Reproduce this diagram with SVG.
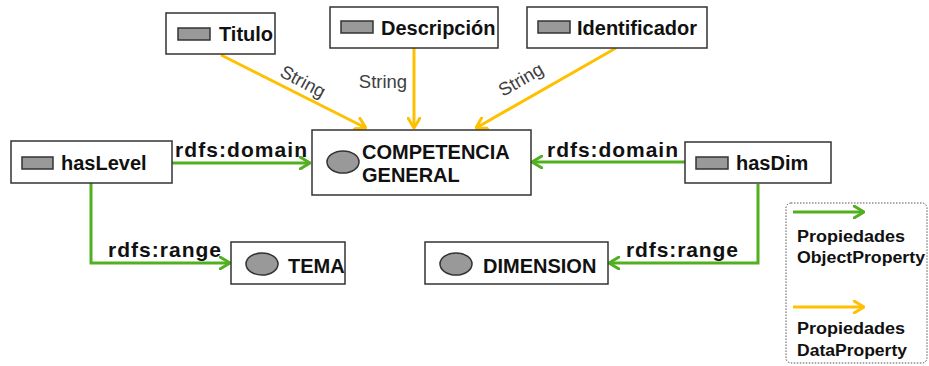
<svg xmlns="http://www.w3.org/2000/svg" width="929" height="366" viewBox="0 0 929 366">
  <defs>
    <style>
      .box { fill: #ffffff; stroke: #333333; stroke-width: 1.5; }
      .prop { fill: #999999; stroke: #333333; stroke-width: 1.5; }
      .cls { fill: #999999; stroke: #333333; stroke-width: 1.5; }
      .lbl { font-family: "Liberation Sans", Arial, sans-serif; font-weight: bold; font-size: 20px; fill: #111111; }
      .rel { font-family: "Liberation Sans", Arial, sans-serif; font-weight: bold; font-size: 21px; fill: #111111; }
      .str { font-family: "Liberation Sans", Arial, sans-serif; font-size: 18.5px; fill: #404040; }
      .leg { font-family: "Liberation Sans", Arial, sans-serif; font-weight: bold; font-size: 16px; fill: #111111; }
      .obj { fill: none; stroke: #52b020; stroke-width: 3; }
      .dat { fill: none; stroke: #ffc000; stroke-width: 3; }
    </style>
    <marker id="headG" viewBox="0 0 12 14" refX="11" refY="7" markerWidth="12" markerHeight="14" markerUnits="userSpaceOnUse" orient="auto">
      <path d="M1,1 L11,7 L1,13" fill="none" stroke="#52b020" stroke-width="3" stroke-linecap="round" stroke-linejoin="round"/>
    </marker>
    <marker id="headO" viewBox="0 0 12 14" refX="11" refY="7" markerWidth="12" markerHeight="14" markerUnits="userSpaceOnUse" orient="auto">
      <path d="M1,1 L11,7 L1,13" fill="none" stroke="#ffc000" stroke-width="3" stroke-linecap="round" stroke-linejoin="round"/>
    </marker>
  </defs>

  <rect width="929" height="366" fill="#ffffff"/>

  <!-- connectors -->
  <g id="connectors">
    <!-- data properties -->
    <line class="dat" x1="221" y1="55" x2="366" y2="128" marker-end="url(#headO)"/>
    <line class="dat" x1="414" y1="48" x2="414" y2="128" marker-end="url(#headO)"/>
    <line class="dat" x1="616" y1="48" x2="476" y2="128" marker-end="url(#headO)"/>
    <text class="str" transform="translate(300,87) rotate(28)" text-anchor="middle">String</text>
    <text class="str" x="383" y="88" text-anchor="middle">String</text>
    <text class="str" transform="translate(524,85) rotate(-30)" text-anchor="middle">String</text>

    <!-- object properties -->
    <line class="obj" x1="172" y1="163" x2="310" y2="163" marker-end="url(#headG)"/>
    <text class="rel" x="175" y="157" textLength="132" lengthAdjust="spacing">rdfs:domain</text>
    <polyline class="obj" points="91,183 91,263 230,263" marker-end="url(#headG)"/>
    <text class="rel" x="108" y="257" textLength="113" lengthAdjust="spacing">rdfs:range</text>

    <line class="obj" x1="685" y1="162" x2="532" y2="162" marker-end="url(#headG)"/>
    <text class="rel" x="547" y="157" textLength="131" lengthAdjust="spacing">rdfs:domain</text>
    <polyline class="obj" points="758,184 758,263 609,263" marker-end="url(#headG)"/>
    <text class="rel" x="626" y="257" textLength="112" lengthAdjust="spacing">rdfs:range</text>
  </g>

  <g id="titulo">
    <rect class="box" x="166" y="13" width="109" height="41"/>
    <rect class="prop" x="178" y="28" width="32" height="12"/>
    <text class="lbl" x="219" y="41">Titulo</text>
  </g>

  <g id="descripcion">
    <rect class="box" x="330" y="7" width="168" height="41"/>
    <rect class="prop" x="341" y="21" width="32" height="12"/>
    <text class="lbl" x="381" y="35">Descripción</text>
  </g>

  <g id="identificador">
    <rect class="box" x="527" y="7" width="180" height="41"/>
    <rect class="prop" x="538" y="21" width="32" height="12"/>
    <text class="lbl" x="577" y="35">Identificador</text>
  </g>

  <g id="competencia-general">
    <rect class="box" x="312" y="130" width="219" height="65"/>
    <ellipse class="cls" cx="343" cy="162" rx="16" ry="11"/>
    <text class="lbl" x="362" y="159">COMPETENCIA</text>
    <text class="lbl" x="362" y="182">GENERAL</text>
  </g>

  <g id="hasLevel">
    <rect class="box" x="11" y="141" width="161" height="42"/>
    <rect class="prop" x="22" y="157" width="31" height="12"/>
    <text class="lbl" x="61" y="170">hasLevel</text>
  </g>

  <g id="hasDim">
    <rect class="box" x="685" y="142" width="146" height="41"/>
    <rect class="prop" x="696" y="157" width="32" height="12"/>
    <text class="lbl" x="736" y="170">hasDim</text>
  </g>

  <g id="tema">
    <rect class="box" x="231" y="242" width="114" height="42"/>
    <ellipse class="cls" cx="262" cy="264" rx="16" ry="11"/>
    <text class="lbl" x="288" y="273">TEMA</text>
  </g>

  <g id="dimension">
    <rect class="box" x="425" y="242" width="183" height="42"/>
    <ellipse class="cls" cx="456" cy="264" rx="16" ry="11"/>
    <text class="lbl" x="483" y="273">DIMENSION</text>
  </g>

  <g id="legend">
    <rect x="786" y="203" width="141" height="160" rx="5" ry="5" fill="#ffffff" stroke="#555555" stroke-width="1" stroke-dasharray="1.5,1.5"/>
    <line class="obj" x1="793" y1="212" x2="864" y2="212" marker-end="url(#headG)"/>
    <text class="leg" x="797" y="242" textLength="108" lengthAdjust="spacingAndGlyphs">Propiedades</text>
    <text class="leg" x="797" y="263" textLength="128" lengthAdjust="spacingAndGlyphs">ObjectProperty</text>
    <line class="dat" x1="793" y1="307" x2="864" y2="307" marker-end="url(#headO)"/>
    <text class="leg" x="797" y="334" textLength="108" lengthAdjust="spacingAndGlyphs">Propiedades</text>
    <text class="leg" x="797" y="356" textLength="110" lengthAdjust="spacingAndGlyphs">DataProperty</text>
  </g>
</svg>
